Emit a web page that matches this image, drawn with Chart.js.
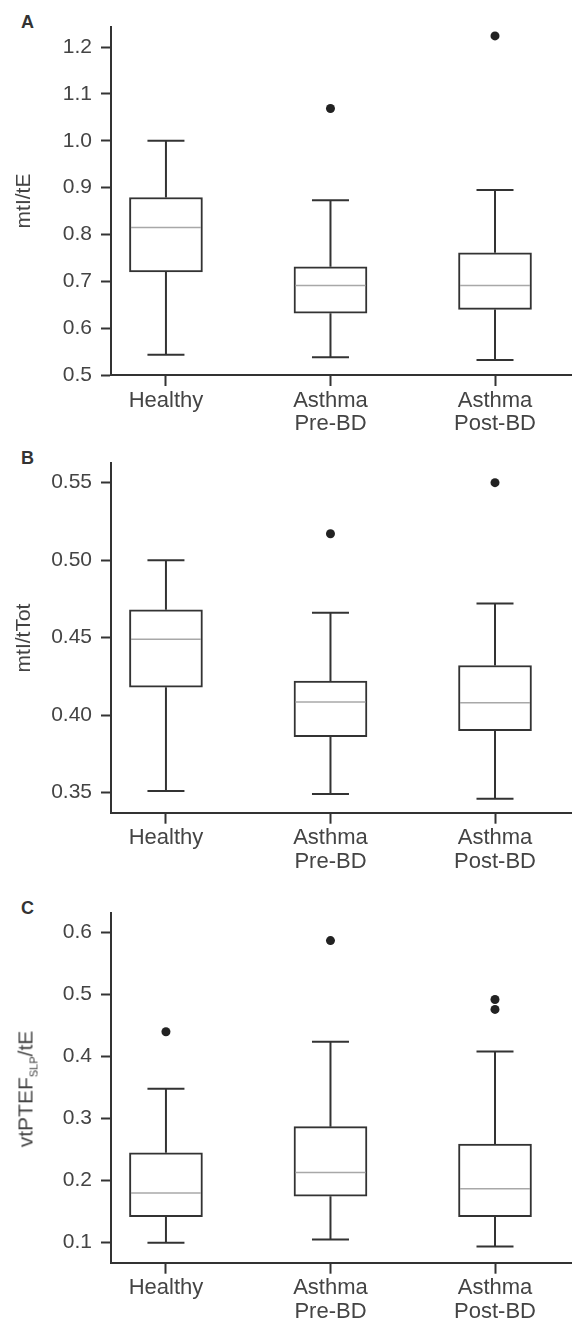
<!DOCTYPE html>
<html>
<head>
<meta charset="utf-8">
<script src="https://cdn.jsdelivr.net/npm/chart.js@4"></script>
<style>
  body { margin: 0; background: #fff; }
  #wrap { position: relative; width: 572px; height: 1325px; overflow: hidden; }
  canvas { position: absolute; left: 0; }
  .panel { position: absolute; left: 21px; font: bold 18px "Liberation Sans", Arial, sans-serif; line-height: 18px; color: #333; }
  .ytitle { position: absolute; white-space: nowrap; font: 21px "Liberation Sans", Arial, sans-serif; line-height: 21px; color: #444;
            transform: translate(-50%, -50%) rotate(-90deg); }
  .ytitle sub { font-size: 11px; line-height: 0; vertical-align: -5px; }
</style>
</head>
<body>
<div id="wrap">
  <div class="panel" style="top:13px">A</div>
  <div class="panel" style="top:449px">B</div>
  <div class="panel" style="top:899px">C</div>
  <canvas id="chartA" width="572" height="440" style="top:0px"></canvas>
  <canvas id="chartB" width="572" height="445" style="top:440px"></canvas>
  <canvas id="chartC" width="572" height="440" style="top:885px"></canvas>
  <div class="ytitle" style="left:25px; top:1089px">vtPTEF<sub>SLP</sub>/tE</div>
</div>
<script>
// groups on the x axis (1, 2, 3)
const categories = [["Healthy"], ["Asthma", "Pre-BD"], ["Asthma", "Post-BD"]];

// panel A: mtI/tE
const lowA = [0.543, 0.538, 0.532];
const q1A = [0.720, 0.632, 0.640];
const medA = [0.815, 0.691, 0.691];
const q3A = [0.879, 0.731, 0.761];
const highA = [1.000, 0.873, 0.895];
const outGroupA = [2, 3];
const outValA = [1.069, 1.224];
const ticksA = [0.5, 0.6, 0.7, 0.8, 0.9, 1.0, 1.1, 1.2];

// panel B: mtI/tTot
const lowB = [0.351, 0.349, 0.346];
const q1B = [0.418, 0.386, 0.390];
const medB = [0.449, 0.4085, 0.408];
const q3B = [0.468, 0.422, 0.432];
const highB = [0.500, 0.466, 0.472];
const outGroupB = [2, 3];
const outValB = [0.517, 0.550];
const ticksB = [0.35, 0.40, 0.45, 0.50, 0.55];

// panel C: vtPTEF_SLP/tE
const lowC = [0.100, 0.105, 0.094];
const q1C = [0.142, 0.175, 0.142];
const medC = [0.180, 0.213, 0.187];
const q3C = [0.245, 0.287, 0.259];
const highC = [0.348, 0.424, 0.408];
const outGroupC = [1, 2, 3, 3];
const outValC = [0.440, 0.587, 0.492, 0.476];
const ticksC = [0.1, 0.2, 0.3, 0.4, 0.5, 0.6];

const FONT = '"Liberation Sans", Arial, sans-serif';
const DARK = "#333";
const TEXT = "#444";

//builds one box plot panel
function boxPanel(id, p) {
  const groups = p.low.map((_, i) => i + 1);

  // whisker segments, split by null points
  const whiskers = [];
  groups.forEach((g, i) => {
    whiskers.push({ x: g, y: p.low[i] }, { x: g, y: p.q1[i] }, { x: g, y: null });
    whiskers.push({ x: g, y: p.q3[i] }, { x: g, y: p.high[i] }, { x: g, y: null });
  });
  const caps = [];
  groups.forEach((g, i) => {
    caps.push({ x: g, y: p.low[i] }, { x: g, y: p.high[i] });
  });

  new Chart(id, {
    type: "scatter",
    data: {
      datasets: [
        {
          type: "bar",
          data: groups.map((g, i) => ({ x: g, y: [p.q1[i], p.q3[i]] })),
          backgroundColor: "#fff",
          borderColor: DARK,
          borderWidth: 2,
          borderSkipped: false,
          barThickness: 73,
          grouped: false,
          order: 3,
        },
        {
          type: "line",
          data: whiskers,
          borderColor: DARK,
          borderWidth: 2,
          pointRadius: 0,
          spanGaps: false,
          order: 2,
        },
        {
          data: caps,
          pointStyle: "line",
          pointRadius: 18.5,
          pointBorderWidth: 2,
          pointBorderColor: DARK,
          order: 1,
        },
        {
          data: groups.map((g, i) => ({ x: g, y: p.med[i] })),
          pointStyle: "line",
          pointRadius: 35,
          pointBorderWidth: 1.5,
          pointBorderColor: "#a8a8a8",
          order: 1,
        },
        {
          data: p.outGroup.map((g, i) => ({ x: g, y: p.outVal[i] })),
          pointRadius: 4.5,
          pointBackgroundColor: "#222",
          pointBorderWidth: 0,
          order: 0,
        },
      ],
    },
    options: {
      responsive: false,
      animation: false,
      events: [],
      layout: { autoPadding: false, padding: { top: p.top, left: 0, right: 0, bottom: 0 } },
      plugins: { legend: { display: false }, tooltip: { enabled: false } },
      scales: {
        x: {
          type: "linear",
          min: 0.666,
          max: 3.468,
          offset: false,
          afterFit: (s) => {
            s.height = p.xHeight;
            s.paddingLeft = 0;
            s.paddingRight = 0;
          },
          afterBuildTicks: (s) => { s.ticks = groups.map((g) => ({ value: g })); },
          grid: { drawOnChartArea: false, offset: false, tickLength: 11, tickWidth: 2, tickColor: DARK },
          border: { display: true, color: DARK, width: 2 },
          ticks: {
            color: TEXT,
            padding: 3,
            maxRotation: 0,
            autoSkip: false,
            font: { family: FONT, size: 22, lineHeight: 1.06 },
            callback: (v) => categories[v - 1],
          },
        },
        y: {
          min: p.range[0],
          max: p.range[1],
          afterFit: (s) => {
            s.width = 111;
            s.paddingTop = 0;
            s.paddingBottom = 0;
          },
          afterBuildTicks: (s) => { s.ticks = p.ticks.map((v) => ({ value: v })); },
          grid: { drawOnChartArea: false, tickLength: 10, tickWidth: 2, tickColor: DARK },
          border: { display: true, color: DARK, width: 2 },
          ticks: {
            color: TEXT,
            padding: 9,
            font: { family: FONT, size: 21 },
            callback: (v) => v.toFixed(p.digits),
          },
          title: {
            display: !!p.title,
            text: p.title,
            color: TEXT,
            padding: { top: 12, bottom: 0 },
            font: { family: FONT, size: 21 },
          },
        },
      },
    },
  });
}

boxPanel("chartA", {
  low: lowA, q1: q1A, med: medA, q3: q3A, high: highA,
  outGroup: outGroupA, outVal: outValA, ticks: ticksA,
  range: [0.5, 1.243], digits: 1, title: "mtI/tE", top: 27, xHeight: 65,
});
boxPanel("chartB", {
  low: lowB, q1: q1B, med: medB, q3: q3B, high: highB,
  outGroup: outGroupB, outVal: outValB, ticks: ticksB,
  range: [0.337, 0.5625], digits: 2, title: "mtI/tTot", top: 23.3, xHeight: 72.3,
});
boxPanel("chartC", {
  low: lowC, q1: q1C, med: medC, q3: q3C, high: highC,
  outGroup: outGroupC, outVal: outValC, ticks: ticksC,
  range: [0.0677, 0.631], digits: 1, title: "", top: 28.3, xHeight: 62.3,
});
</script>
</body>
</html>
